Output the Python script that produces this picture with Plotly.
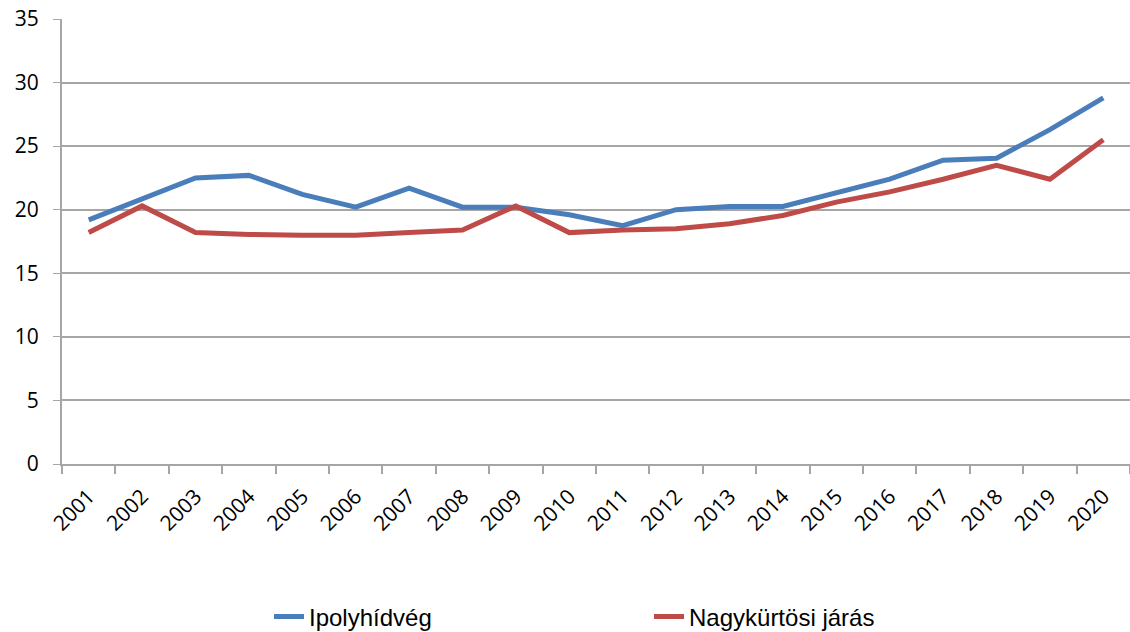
import plotly.graph_objects as go

BLUE = "#4a7ebb"
RED = "#be4b48"
GRID = "#a6a6a6"

years = [str(y) for y in range(2001, 2021)]
ipolyhidveg = [19.2, 20.8, 22.5, 22.7, 21.2, 20.2, 21.7, 20.2, 20.2, 19.6,
               18.75, 20.0, 20.25, 20.25, 21.3, 22.4, 23.9, 24.05, 26.3, 28.8]
nagykurtosi = [18.2, 20.3, 18.2, 18.05, 18.0, 18.0, 18.2, 18.4, 20.3, 18.2,
               18.4, 18.5, 18.9, 19.55, 20.6, 21.4, 22.4, 23.5, 22.4, 25.5]

fig = go.Figure()
fig.add_trace(go.Scatter(x=years, y=ipolyhidveg, name="Ipolyhídvég", mode="lines",
                         line=dict(color=BLUE, width=5)))
fig.add_trace(go.Scatter(x=years, y=nagykurtosi, name="Nagykürtösi járás", mode="lines",
                         line=dict(color=RED, width=5)))

fig.update_layout(
    width=1130, height=632,
    margin=dict(l=62, r=0, t=19, b=168),
    plot_bgcolor="white", paper_bgcolor="white",
    font=dict(family="Open Sans", color="black", size=21),
    legend=dict(orientation="h", xref="paper", x=(200 + 7) / 1068, xanchor="left",
                yref="container", y=15 / 632, yanchor="middle",
                font=dict(family="Liberation Sans", size=24),
                entrywidth=335, entrywidthmode="pixels"),
)
fig.update_xaxes(
    type="category", tickangle=-45, tickson="boundaries", automargin=False,
    ticks="outside", ticklen=8, tickcolor=GRID, tickwidth=2, ticklabelstandoff=10,
    showline=True, linecolor=GRID, linewidth=2, showgrid=False,
    range=[-0.5, 19.5],
)
fig.update_yaxes(
    range=[0, 35], dtick=5, showgrid=True, gridcolor=GRID, gridwidth=1.5,
    showline=True, linecolor=GRID, linewidth=2, zeroline=False, automargin=False,
    ticks="outside", ticklen=7, tickcolor=GRID, ticklabelstandoff=10,
)

# page body has a default 8px margin; drop it so the figure sits at the corner
fig.write_html("out.html", config={"displayModeBar": False},
               post_script="document.body.style.margin='0';")
